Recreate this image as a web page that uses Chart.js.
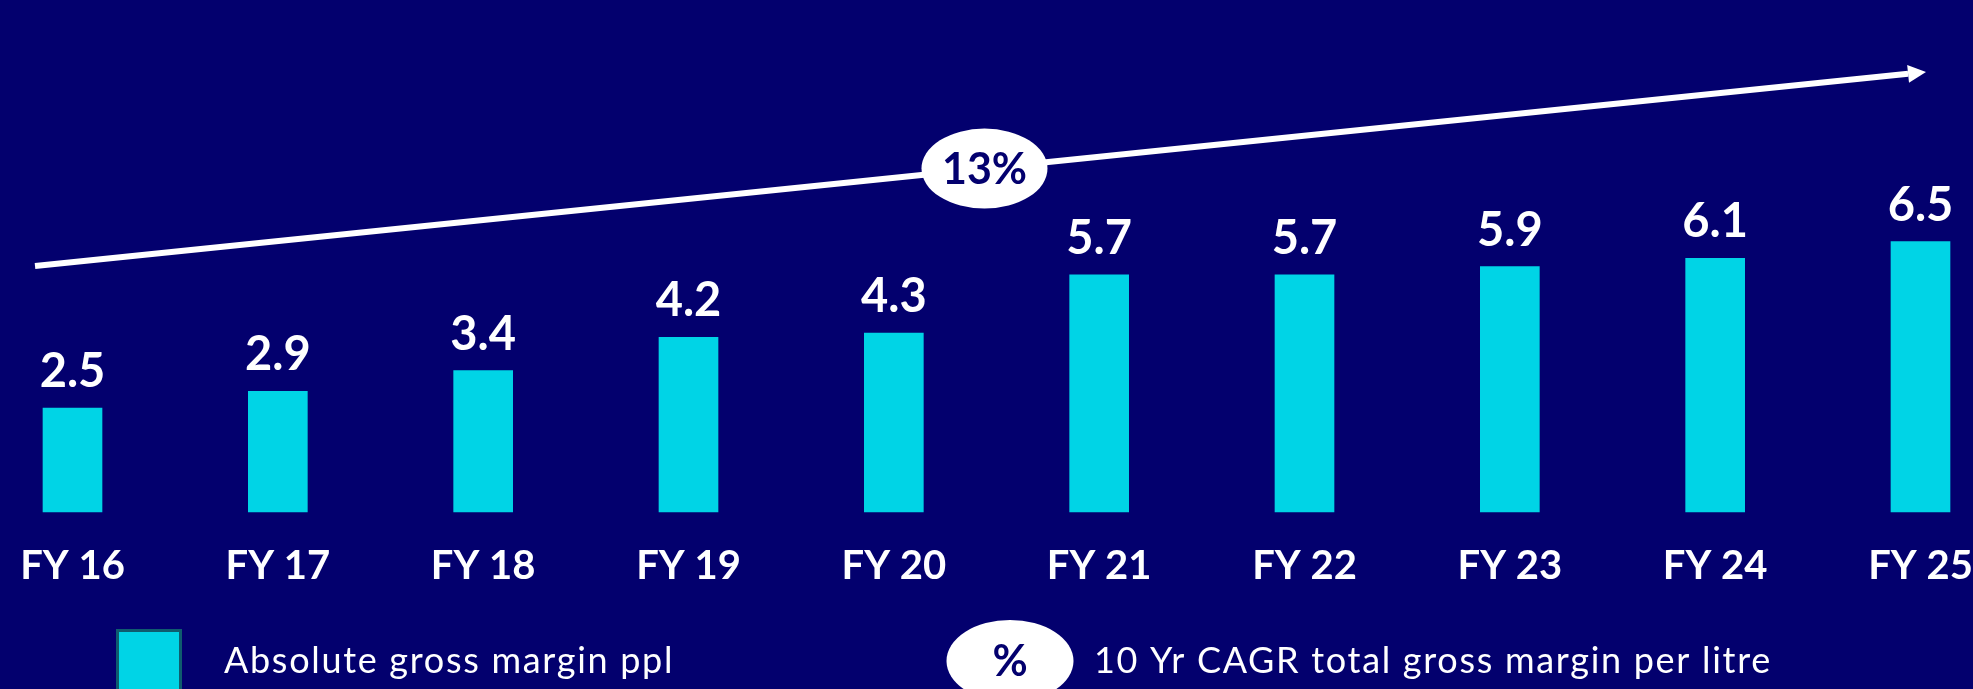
<!DOCTYPE html>
<html>
<head>
<meta charset="utf-8">
<title>Absolute gross margin ppl</title>
<script src="https://cdn.jsdelivr.net/npm/chart.js@4.4.1/dist/chart.umd.min.js"></script>
<style>
  html, body { margin: 0; padding: 0; background: #03006e; }
  canvas { display: block; }
</style>
</head>
<body>
<canvas id="marginChart" width="1973" height="689"></canvas>
<script>
const years = ["FY 16", "FY 17", "FY 18", "FY 19", "FY 20", "FY 21", "FY 22", "FY 23", "FY 24", "FY 25"];
const marginPpl = [2.5, 2.9, 3.4, 4.2, 4.3, 5.7, 5.7, 5.9, 6.1, 6.5];
const cagrLabel = "13%";
const legendLabels = ["Absolute gross margin ppl", "10 Yr CAGR total gross margin per litre"];

const navy = "#03006e";
const cyan = "#00d4e6";
const fontFamily = "Lato, 'Noto Sans', sans-serif";

// Paint the page background inside the canvas
const background = {
  id: "background",
  beforeDraw(chart) {
    const { ctx, width, height } = chart;
    ctx.save();
    ctx.fillStyle = navy;
    ctx.fillRect(0, 0, width, height);
    ctx.restore();
  },
};

// Value above each bar
const valueLabels = {
  id: "valueLabels",
  afterDatasetsDraw(chart) {
    const { ctx } = chart;
    const meta = chart.getDatasetMeta(0);
    const values = chart.data.datasets[0].data;
    ctx.save();
    ctx.fillStyle = "#ffffff";
    ctx.font = "bold 47px " + fontFamily;
    ctx.textAlign = "center";
    ctx.textBaseline = "alphabetic";
    meta.data.forEach((bar, i) => {
      ctx.fillText(values[i].toFixed(1), bar.x, bar.y - 21);
    });
    ctx.restore();
  },
};

// Growth arrow with the CAGR bubble on it
const cagrArrow = {
  id: "cagrArrow",
  afterDraw(chart, args, opts) {
    const { ctx } = chart;
    const { x1, y1, x2, y2, headLen, headHalf, bubbleX } = opts;
    const len = Math.hypot(x2 - x1, y2 - y1);
    const dx = (x2 - x1) / len;
    const dy = (y2 - y1) / len;
    const bx = x2 - dx * headLen;
    const by = y2 - dy * headLen;

    ctx.save();
    ctx.strokeStyle = "#ffffff";
    ctx.fillStyle = "#ffffff";
    ctx.lineWidth = 6;
    ctx.beginPath();
    ctx.moveTo(x1, y1);
    ctx.lineTo(bx, by);
    ctx.stroke();

    ctx.beginPath();
    ctx.moveTo(x2, y2);
    ctx.lineTo(bx - dy * headHalf, by + dx * headHalf);
    ctx.lineTo(bx + dy * headHalf, by - dx * headHalf);
    ctx.closePath();
    ctx.fill();

    const by2 = y1 + (bubbleX - x1) * (y2 - y1) / (x2 - x1);
    ctx.beginPath();
    ctx.ellipse(bubbleX, by2, 63, 40, 0, 0, Math.PI * 2);
    ctx.fill();

    ctx.fillStyle = navy;
    ctx.font = "bold 43px " + fontFamily;
    ctx.textAlign = "center";
    ctx.textBaseline = "alphabetic";
    ctx.fillText(cagrLabel, bubbleX, by2 + 15);
    ctx.restore();
  },
};

// Custom legend along the bottom edge
const bottomLegend = {
  id: "bottomLegend",
  afterDraw(chart) {
    const { ctx } = chart;
    ctx.save();

    ctx.fillStyle = cyan;
    ctx.fillRect(116, 629, 66, 66);
    ctx.strokeStyle = "#0f5c6e";
    ctx.lineWidth = 3;
    ctx.strokeRect(117.5, 630.5, 63, 63);

    ctx.fillStyle = "#ffffff";
    ctx.beginPath();
    ctx.ellipse(1010, 661, 63.5, 41, 0, 0, Math.PI * 2);
    ctx.fill();

    ctx.fillStyle = navy;
    ctx.font = "bold 43px " + fontFamily;
    ctx.textAlign = "center";
    ctx.textBaseline = "alphabetic";
    ctx.fillText("%", 1010, 676);

    ctx.fillStyle = "#ffffff";
    ctx.font = "36px " + fontFamily;
    ctx.letterSpacing = "1.7px";
    ctx.textAlign = "left";
    ctx.fillText(legendLabels[0], 224, 673);
    ctx.fillText(legendLabels[1], 1094, 673);
    ctx.restore();
  },
};

const marginChart = new Chart(document.getElementById("marginChart"), {
  type: "bar",
  data: {
    labels: years,
    datasets: [
      {
        label: legendLabels[0],
        data: marginPpl,
        backgroundColor: cyan,
        borderWidth: 0,
        barThickness: 59,
        clip: false,
      },
    ],
  },
  options: {
    responsive: false,
    animation: false,
    layout: {
      padding: { left: 72.5, right: 52.5, top: 96, bottom: 69 },
    },
    scales: {
      x: {
        offset: false,
        grid: { display: false, drawTicks: false },
        border: { display: false },
        ticks: {
          color: "#ffffff",
          font: { family: fontFamily, size: 40, weight: "bold" },
          padding: 30,
          maxRotation: 0,
          autoSkip: false,
        },
        afterFit(scale) {
          scale.paddingLeft = 0;
          scale.paddingRight = 0;
        },
      },
      y: {
        display: false,
        min: 0,
        max: 10,
      },
    },
    plugins: {
      legend: { display: false },
      tooltip: { enabled: false },
      cagrArrow: {
        x1: 35, y1: 266, x2: 1926, y2: 72,
        headLen: 18, headHalf: 9,
        bubbleX: 984.5,
      },
    },
  },
  plugins: [background, valueLabels, cagrArrow, bottomLegend],
});
</script>
</body>
</html>
